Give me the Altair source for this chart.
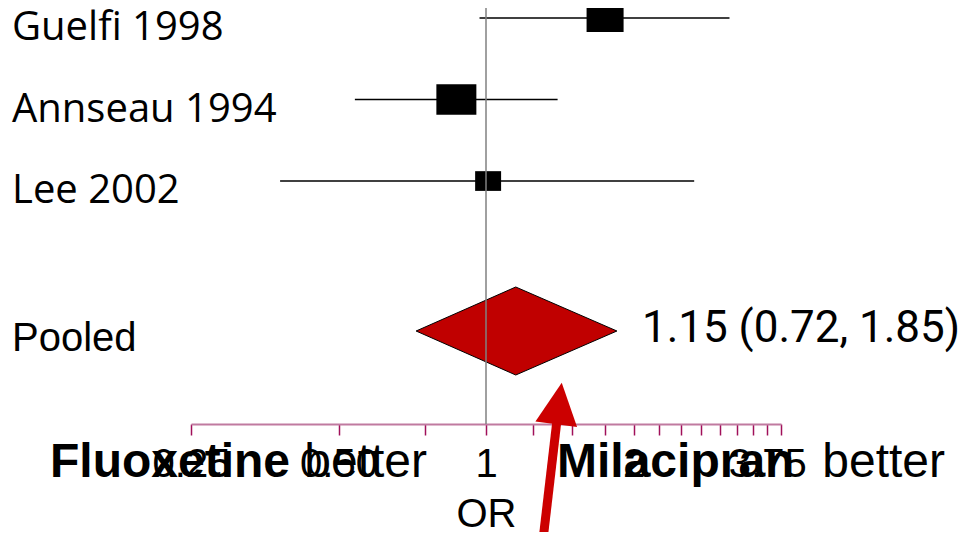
import altair as alt
import pandas as pd

# ---- data ----
studies = ["Guelfi 1998", "Annseau 1994", "Lee 2002"]
or_est = [1.75, 0.87, 1.01]
ci_low = [0.97, 0.54, 0.38]
ci_high = [3.14, 1.40, 2.66]
weights = [37.6, 43.9, 18.5]
study_rows = [1, 2, 3]

pooled_label = "Pooled"
pooled_est = 1.15
pooled_low = 0.72
pooled_high = 1.85
pooled_row = 4.84

tick_values = [0.25, 0.5, 0.75, 1.0, 1.25, 1.5, 1.75, 2.0, 2.25, 2.5, 2.75,
               3.0, 3.25, 3.5, 3.75, 4.0]
label_values = [0.25, 0.5, 1.0, 2.0, 3.75]
label_texts = ["0.25", "0.50", "1", "2", "3.75"]

left_group = ["Fluoxetine", "better"]
right_group = ["Milacipran", "better"]

# ---- tables ----
df = pd.DataFrame({"study": studies, "or": or_est, "lo": ci_low,
                   "hi": ci_high, "w": weights, "row": study_rows})
pool = pd.DataFrame({"study": [pooled_label], "or": [pooled_est],
                     "lo": [pooled_low], "hi": [pooled_high],
                     "row": [pooled_row],
                     "label": [f"{pooled_est:.2f} ({pooled_low:.2f}, {pooled_high:.2f})"]})
half_h = 0.54
diamond = pd.DataFrame({
    "x": [pooled_low, pooled_est, pooled_high],
    "y": [pooled_row, pooled_row - half_h, pooled_row],
    "y2": [pooled_row, pooled_row + half_h, pooled_row],
})

label_expr = "".join(
    f"datum.value == {v} ? '{t}' : " for v, t in zip(label_values, label_texts)
) + "''"

xscale = alt.Scale(type="log", domain=[0.25, 4], nice=False)
yscale = alt.Scale(domain=[0.877, 5.981], reverse=True, nice=False, zero=False)

xaxis = alt.Axis(values=tick_values, labelExpr=label_expr, tickSize=11,
                 tickColor="#a0105a", tickWidth=1.5, domainColor="#c07aa0",
                 domainWidth=2, labelFont="Liberation Sans", labelFontSize=40,
                 labelColor="black", labelPadding=9, title="OR",
                 titleFont="Liberation Sans", titleFontSize=40,
                 titleFontWeight="normal", titleColor="black", titlePadding=10,
                 grid=False, labelOverlap=False, labelFlush=False,
                 labelBound=False)

base = alt.Chart(df)

ci = base.mark_rule(color="black", strokeWidth=1.5).encode(
    x=alt.X("lo:Q", scale=xscale, axis=xaxis),
    x2="hi:Q",
    y=alt.Y("row:Q", scale=yscale, axis=None),
)

boxes = base.mark_point(
    shape="M-1,-0.76L1,-0.76L1,0.76L-1,0.76Z", filled=True, color="black",
    opacity=1, strokeWidth=0,
).encode(
    x="or:Q",
    y="row:Q",
    size=alt.Size("w:Q", scale=alt.Scale(domain=[0, 50], range=[0, 1822]),
                  legend=None),
)

dia = alt.Chart(diamond).mark_area(
    color="#c00000", stroke="black", strokeWidth=1, orient="vertical",
    opacity=1,
).encode(x="x:Q", y="y:Q", y2="y2:Q")

refline = alt.Chart(pd.DataFrame({"v": [1.0]})).mark_rule(
    color="#808080", strokeWidth=1.5
).encode(x="v:Q")

names = base.mark_text(
    align="left", baseline="alphabetic", dy=22, font="Open Sans",
    fontSize=40, color="black",
).encode(x=alt.value(-179), y="row:Q", text="study:N")

pool_name = alt.Chart(pool).mark_text(
    align="left", baseline="alphabetic", dy=20, font="Liberation Sans",
    fontSize=40, color="black",
).encode(x=alt.value(-179), y="row:Q", text="study:N")

pool_txt = alt.Chart(pool).mark_text(
    align="left", baseline="alphabetic", dx=25, dy=11, font="Roboto",
    fontSize=44, color="black",
).encode(x="hi:Q", y="row:Q", text="label:N")

ann = pd.DataFrame({
    "t": [left_group[0], left_group[1], right_group[0], right_group[1]],
    "px": [-141, 236, 366, 754],
    "bold": [True, False, True, False],
})
ann_bold = alt.Chart(ann[ann.bold]).mark_text(
    align="left", baseline="alphabetic", font="Liberation Sans", fontSize=48,
    fontWeight="bold", color="black",
).encode(x=alt.X("px:Q", scale=None), y=alt.value(469), text="t:N")
ann_reg = alt.Chart(ann[~ann.bold]).mark_text(
    align="right", baseline="alphabetic", font="Liberation Sans", fontSize=48,
    color="black",
).encode(x=alt.X("px:Q", scale=None), y=alt.value(469), text="t:N")

arrow_shaft = alt.Chart(pd.DataFrame({"a": [0]})).mark_rule(
    color="#cc0000", strokeWidth=9, strokeCap="butt"
).encode(x=alt.value(351.4), x2=alt.value(366), y=alt.value(537),
         y2=alt.value(412))
arrow_head = alt.Chart(pd.DataFrame({"a": [0]})).mark_point(
    shape="M0,-1L-1,1L1,1Z", filled=True, color="#cc0000", opacity=1,
    size=1764, angle=7.5, strokeWidth=0,
).encode(x=alt.value(368), y=alt.value(395.5))

chart = alt.layer(
    ci, boxes, dia, refline, names, pool_name, pool_txt, ann_bold, ann_reg,
    arrow_shaft, arrow_head,
).properties(
    width=590, height=416,
    autosize=alt.AutoSizeParams(type="none"),
    padding={"left": 183, "top": 0, "right": 179, "bottom": 108},
).configure(background="white").configure_view(strokeWidth=0, stroke="transparent")

chart.save("out.html", embed_options={"renderer": "svg", "actions": False})
